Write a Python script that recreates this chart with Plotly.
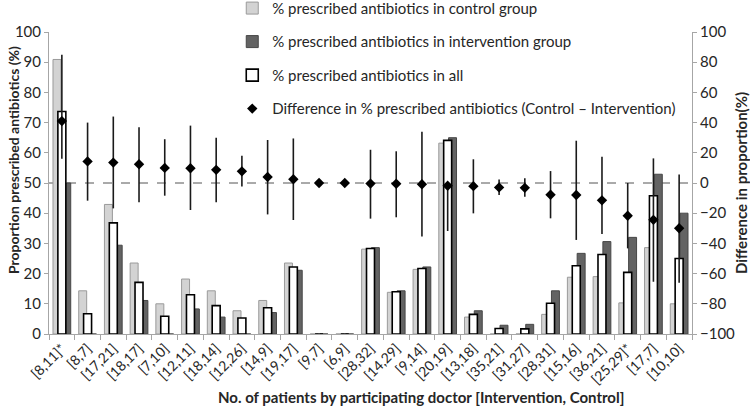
import plotly.graph_objects as go

categories = ["[8,11]*", "[8,7]", "[17,21]", "[18,17]", "[7,10]", "[12,11]", "[18,14]",
              "[12,26]", "[14,9]", "[19,17]", "[9,7]", "[6,9]", "[28,32]", "[14,29]",
              "[9,14]", "[20,19]", "[13,18]", "[35,21]", "[31,27]", "[28,31]", "[15,16]",
              "[36,21]", "[25,29]*", "[17,7]", "[10,10]"]

control_pct = [90.9, 14.3, 42.9, 23.5, 10.0, 18.2, 14.3, 7.7, 11.1, 23.5, 0, 0, 28.1, 13.8,
               21.4, 63.2, 5.6, 0, 0, 6.5, 18.8, 19.0, 10.3, 28.6, 10.0]
intervention_pct = [50.0, 0, 29.4, 11.1, 0, 8.3, 5.6, 0, 7.1, 21.1, 0, 0, 28.6, 14.3,
                    22.2, 65.0, 7.7, 2.9, 3.2, 14.3, 26.7, 30.6, 32.0, 52.9, 40.0]
all_pct = [73.7, 6.7, 36.8, 17.1, 5.9, 13.0, 9.4, 5.3, 8.7, 22.2, 0, 0, 28.3, 14.0,
           21.7, 64.1, 6.5, 1.8, 1.7, 10.2, 22.6, 26.3, 20.4, 45.8, 25.0]
diff_pct = [41.0, 14.3, 13.5, 12.4, 10.0, 9.8, 8.7, 7.7, 4.0, 2.5, 0, 0, -0.4, -0.5,
            -0.8, -1.8, -2.1, -2.9, -3.2, -7.8, -7.9, -11.5, -21.7, -24.4, -30.0]
diff_upper = [85, 40, 44, 37, 29, 38, 30, 18, 28.5, 29.5, 0, 0, 22, 21, 34, -1.5, 15.7,
              2.4, 3.1, 7.9, 28, 17.4, 0, 16.3, 5.7]
diff_lower = [16, -11.7, -16.8, -12.8, -8.4, -17.9, -12.8, -2.4, -20.8, -24.5, 0, 0, -23.6,
              -22.7, -35.5, -31.8, -20.1, -7.9, -9.1, -23.4, -37.7, -33.8, -43.3, -65.4, -66]

FONT = "Lato"
TXT = "#262626"

err_plus = [u - d for u, d in zip(diff_upper, diff_pct)]
err_minus = [d - l for d, l in zip(diff_pct, diff_lower)]

fig = go.Figure()
fig.add_trace(go.Bar(x=categories, y=control_pct, name="% prescribed antibiotics in control group",
                     marker=dict(color="#d3d3d3", line=dict(color="#9a9a9a", width=1)),
                     offset=-0.345, width=0.31, legendgroup="a"))
fig.add_trace(go.Bar(x=categories, y=intervention_pct, name="% prescribed antibiotics in intervention group",
                     marker=dict(color="#636363", line=dict(color="#474747", width=1)),
                     offset=0.035, width=0.31, legendgroup="b"))
fig.add_trace(go.Bar(x=categories, y=all_pct, name="% prescribed antibiotics in all",
                     marker=dict(color="#ffffff", line=dict(color="#000000", width=1.6)),
                     offset=-0.155, width=0.31, legendgroup="c"))
fig.add_trace(go.Scatter(x=categories, y=diff_pct, yaxis="y2", mode="markers",
                         name="Difference in % prescribed antibiotics (Control \u2013 Intervention)",
                         marker=dict(symbol="diamond", size=8, color="#000000"),
                         error_y=dict(type="data", array=err_plus, arrayminus=err_minus,
                                      color="#1a1a1a", thickness=1.6, width=0),
                         legendgroup="d"))

fig.add_shape(type="line", xref="paper", yref="y2", x0=0, x1=1, y0=0, y1=0,
              line=dict(color="#555555", width=1, dash="dash"), layer="below")

fig.update_layout(
    width=750, height=410,
    margin=dict(l=49, r=58, t=32, b=76, autoexpand=False),
    paper_bgcolor="white", plot_bgcolor="white",
    barmode="overlay",
    font=dict(family=FONT, size=15, color=TXT),
    showlegend=True,
    legend=dict(x=0.285, y=1.133, xanchor="left", yanchor="top", bgcolor="rgba(0,0,0,0)",
                font=dict(family=FONT, size=15, color=TXT), tracegroupgap=11,
                itemwidth=30),
    xaxis=dict(type="category", showline=True, linecolor="#a6a6a6", linewidth=1,
               ticks="outside", tickson="boundaries", ticklen=5, tickcolor="#a6a6a6",
               tickangle=-45, tickfont=dict(family=FONT, size=14, color=TXT),
               showgrid=False, range=[-0.5, len(categories) - 0.5]),
    yaxis=dict(range=[0, 100], dtick=10, showline=True, linecolor="#a6a6a6", linewidth=1,
               ticks="outside", ticklen=4, tickcolor="#a6a6a6", showgrid=False,
               zeroline=False, tickfont=dict(family=FONT, size=15, color=TXT)),
    yaxis2=dict(range=[-100, 100], dtick=20, overlaying="y", side="right", showline=True,
                linecolor="#a6a6a6", linewidth=1, ticks="outside", ticklen=4,
                tickcolor="#a6a6a6", showgrid=False, zeroline=False,
                tickfont=dict(family=FONT, size=15, color=TXT)),
    annotations=[
        dict(text="<b>No. of patients by participating doctor [Intervention, Control]</b>",
             xref="paper", yref="paper", x=(421 - 49) / 643, y=-(397 - 334) / 302,
             xanchor="center", yanchor="middle", showarrow=False,
             font=dict(family=FONT, size=15, color=TXT)),
        dict(text="<b>Proportion prescribed antibiotics (%)</b>",
             xref="paper", yref="paper", x=-(49 - 13) / 643, y=(334 - 160) / 302,
             xanchor="center", yanchor="middle", textangle=-90, showarrow=False,
             font=dict(family=FONT, size=14, color=TXT)),
        dict(text="<b>Difference in proportion(%)</b>",
             xref="paper", yref="paper", x=1 + (741 - 692) / 643, y=(334 - 183) / 302,
             xanchor="center", yanchor="middle", textangle=-90, showarrow=False,
             font=dict(family=FONT, size=15, color=TXT)),
    ],
)

fig.write_html("out.html", config={"displayModeBar": False},
               post_script="document.body.style.margin='0';document.body.style.overflow='hidden';")
